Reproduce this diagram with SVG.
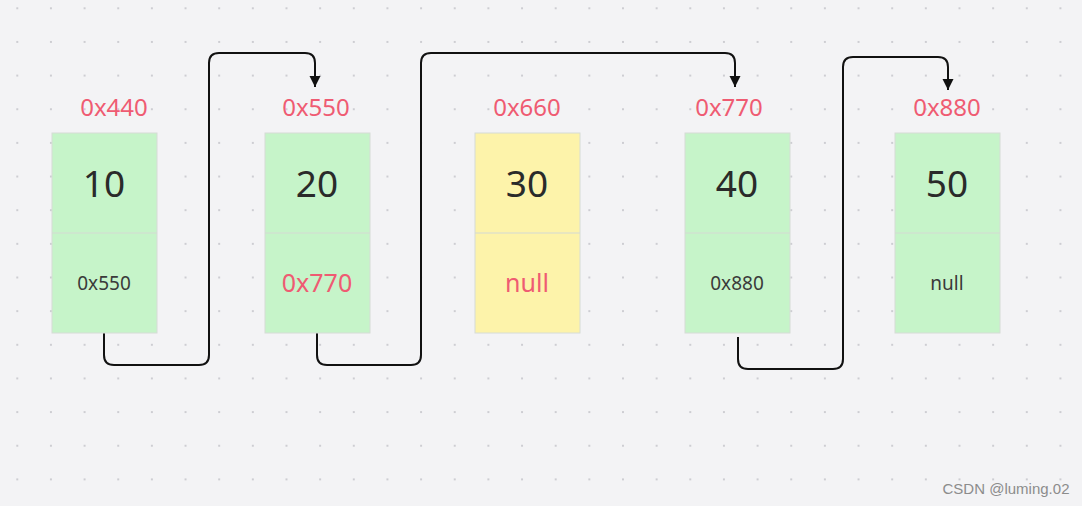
<svg xmlns="http://www.w3.org/2000/svg" width="1082" height="506" viewBox="0 0 1082 506">
<defs>
<pattern id="dots" x="16.3" y="7.3" width="33.65" height="33.65" patternUnits="userSpaceOnUse">
<rect x="0" y="0" width="2" height="2" fill="#cdcdd2"/>
</pattern>
<marker id="arr" viewBox="0 0 10 10" refX="10" refY="5" markerWidth="11" markerHeight="12" markerUnits="userSpaceOnUse" orient="auto">
<path d="M0,0 L10,5 L0,10 Z" fill="#111"/>
</marker>
<style>
.box{stroke:#d6dcd6;stroke-width:1}
.g{fill:#c6f4c9}
.y{fill:#fdf3aa}
.div{stroke:#d4dad4;stroke-width:1.2}
text{font-family:"Noto Sans","Open Sans","DejaVu Sans",sans-serif;text-anchor:middle}
.addr{fill:#ef5b72;font-size:24px}
.val{fill:#2a2a2a;font-size:37px}
.ptr{fill:#3a3a3a;font-size:19px}
.ptrr{fill:#ef5b72;font-size:25px}
.con{fill:none;stroke:#111;stroke-width:2;stroke-linejoin:round}
</style>
</defs>
<rect width="1082" height="506" fill="#f3f3f5"/>
<rect width="1082" height="506" fill="url(#dots)"/>
<g id="connectors">
<path class="con" marker-end="url(#arr)" d="M104,333 V355 Q104,365 114,365 H199 Q209,365 209,355 V63 Q209,53 219,53 H305 Q315,53 315,63 V87"/>
<path class="con" marker-end="url(#arr)" d="M317,333 V355 Q317,365 327,365 H411 Q421,365 421,355 V63 Q421,53 431,53 H725 Q735,53 735,63 V87"/>
<path class="con" marker-end="url(#arr)" d="M738,337 V359 Q738,369 748,369 H833 Q843,369 843,359 V67 Q843,57 853,57 H938 Q948,57 948,67 V90"/>
</g>
<g id="node1">
<text class="addr" x="114" y="116">0x440</text>
<rect class="box g" x="52" y="133" width="105" height="200"/>
<line class="div" x1="52" y1="233" x2="157" y2="233"/>
<text class="val" x="104" y="197">10</text>
<text class="ptr" x="104" y="290">0x550</text>
</g>
<g id="node2">
<text class="addr" x="316" y="116">0x550</text>
<rect class="box g" x="265" y="133" width="105" height="200"/>
<line class="div" x1="265" y1="233" x2="370" y2="233"/>
<text class="val" x="317" y="197">20</text>
<text class="ptrr" x="317" y="292">0x770</text>
</g>
<g id="node3">
<text class="addr" x="527" y="116">0x660</text>
<rect class="box y" x="475" y="133" width="105" height="200"/>
<line class="div" x1="475" y1="233" x2="580" y2="233"/>
<text class="val" x="527" y="197">30</text>
<text class="ptrr" x="527" y="292">null</text>
</g>
<g id="node4">
<text class="addr" x="729" y="116">0x770</text>
<rect class="box g" x="685" y="133" width="105" height="200"/>
<line class="div" x1="685" y1="233" x2="790" y2="233"/>
<text class="val" x="737" y="197">40</text>
<text class="ptr" x="737" y="290">0x880</text>
</g>
<g id="node5">
<text class="addr" x="947" y="116">0x880</text>
<rect class="box g" x="895" y="133" width="105" height="200"/>
<line class="div" x1="895" y1="233" x2="1000" y2="233"/>
<text class="val" x="947" y="197">50</text>
<text class="ptr" x="947" y="290">null</text>
</g>
<text x="1006" y="494" style="font-family:'Liberation Sans',Arial,sans-serif;font-size:15px;fill:#8c8c8c;text-anchor:middle">CSDN @luming.02</text>
</svg>
